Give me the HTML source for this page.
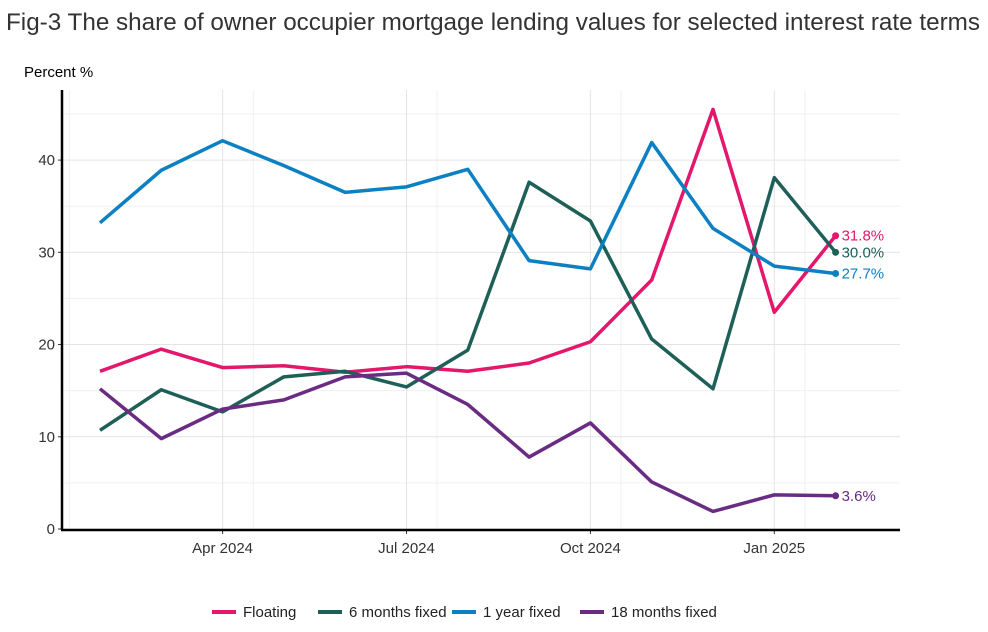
<!DOCTYPE html>
<html><head><meta charset="utf-8"><style>
body{margin:0;background:#fff;font-family:"Liberation Sans",sans-serif;}
svg{display:block}
</style></head><body>
<svg id="c" width="988" height="632">
<text x="6" y="30" font-size="24" fill="#333" textLength="974" lengthAdjust="spacingAndGlyphs">Fig-3 The share of owner occupier mortgage lending values for selected interest rate terms</text>
<text x="24" y="77" font-size="15" fill="#000">Percent %</text>
<g id="grid"></g><g id="axes"></g><g id="series"></g><g id="legend"></g>
</svg>
<script>
const months=["2024-02","2024-03","2024-04","2024-05","2024-06","2024-07","2024-08","2024-09","2024-10","2024-11","2024-12","2025-01","2025-02"];
const floating=[17.1,19.5,17.5,17.7,17.0,17.6,17.1,18.0,20.3,27.0,45.5,23.5,31.8];
const sixMonths=[10.7,15.1,12.7,16.5,17.1,15.4,19.4,37.6,33.4,20.6,15.2,38.1,30.0];
const oneYear=[33.2,38.9,42.1,39.4,36.5,37.1,39.0,29.1,28.2,41.9,32.6,28.5,27.7];
const eighteenMonths=[15.2,9.8,13.0,14.0,16.5,16.9,13.5,7.8,11.5,5.1,1.9,3.7,3.6];
const yTicks=[0,10,20,30,40];
const xTickLabels=["Apr 2024","Jul 2024","Oct 2024","Jan 2025"];
const xTickIdx=[2,5,8,11];
const seriesNames=["Floating","6 months fixed","1 year fixed","18 months fixed"];
const colors=["#e3176b","#1e5f58","#0b80c3","#6a2b83"];
const NS="http://www.w3.org/2000/svg";
const L=62,R=900,T=90,B=529,yMax=47.6;
const x=i=>100+i*61.3;
const y=v=>B-v*(B-T)/yMax;
function mk(p,t,a){const e=document.createElementNS(NS,t);for(const k in a)e.setAttribute(k,a[k]);p.appendChild(e);return e;}
const g=document.getElementById('grid'),ax=document.getElementById('axes'),s=document.getElementById('series'),lg=document.getElementById('legend');
for(let v=5;v<yMax;v+=10){const l=mk(g,'line',{x1:L,x2:R,y1:y(v),y2:y(v),stroke:'#f0f0f0','stroke-width':1});}
for(let i=-0.5;i<14;i+=3){if(x(i)<L||x(i)>R)continue;const l=mk(g,'line',{x1:x(i),x2:x(i),y1:T,y2:B,stroke:'#f0f0f0','stroke-width':1});}
yTicks.forEach(v=>{const l=mk(g,'line',{x1:L,x2:R,y1:y(v),y2:y(v),stroke:'#e4e4e4','stroke-width':1});
mk(ax,'line',{x1:L-4,x2:L,y1:y(v),y2:y(v),stroke:'#333'});
const t=mk(ax,'text',{x:L-7,y:y(v)+5,'text-anchor':'end','font-size':15,fill:'#333'});t.textContent=v;});
xTickIdx.forEach((i,k)=>{const l=mk(g,'line',{x1:x(i),x2:x(i),y1:T,y2:B,stroke:'#e4e4e4'});
mk(ax,'line',{x1:x(i),x2:x(i),y1:B+1,y2:B+5,stroke:'#333'});
const t=mk(ax,'text',{x:x(i),y:B+24,'text-anchor':'middle','font-size':15,fill:'#333'});t.textContent=xTickLabels[k];});
const a1=mk(ax,'line',{x1:L,x2:L,y1:T,y2:B+1,stroke:'#000','stroke-width':2.5});
const a2=mk(ax,'line',{x1:L-1,x2:R,y1:B+1,y2:B+1,stroke:'#000','stroke-width':2.5});
const data=[floating,sixMonths,oneYear,eighteenMonths];
data.forEach((d,k)=>{const p=mk(s,'polyline',{points:d.map((v,i)=>x(i)+','+y(v)).join(' '),fill:'none',stroke:colors[k],'stroke-width':3.5,'stroke-linejoin':'round'});

const n=d.length-1;const c=mk(s,'circle',{cx:x(n),cy:y(d[n]),r:3.5,fill:colors[k]});
const t=mk(s,'text',{x:x(n)+6,y:y(d[n])+5,'font-size':15,fill:colors[k]});t.textContent=d[n].toFixed(1)+'%';});
const lx=[212,318,452,580];
seriesNames.forEach((nm,k)=>{const l=mk(lg,'line',{x1:lx[k],x2:lx[k]+24,y1:612,y2:612,stroke:colors[k],'stroke-width':4});
const t=mk(lg,'text',{x:lx[k]+31,y:617,'font-size':15,fill:'#222'});t.textContent=nm;});
</script>
</body></html>
